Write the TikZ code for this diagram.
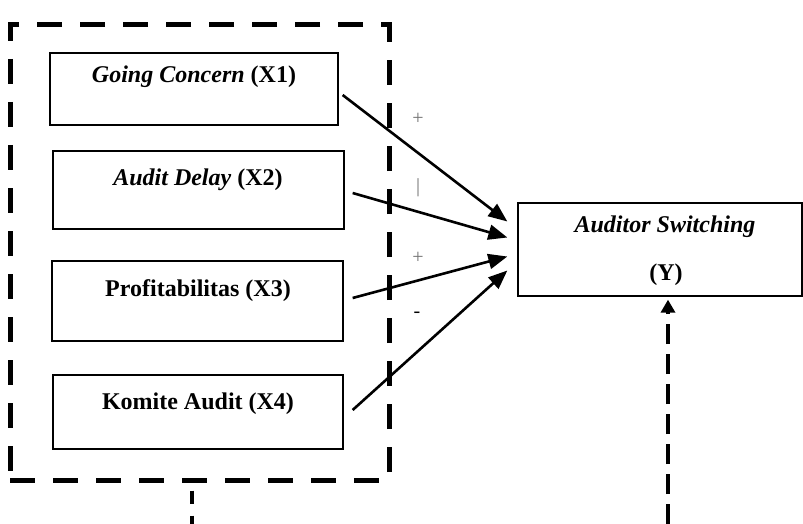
\documentclass[tikz,border=0pt]{standalone}
\usepackage{fontspec}
\setmainfont{Liberation Serif}
\usetikzlibrary{arrows.meta}

\tikzset{
  varbox/.style={draw, line width=1.3pt, inner sep=0pt},
  vartext/.style={anchor=base, inner sep=0pt, font=\fontsize{24}{28}\selectfont\bfseries},
  effect/.style={line width=2.6pt, -{Triangle[length=19pt,width=15pt]}},
  sign/.style={inner sep=0pt, text=black!55, font=\fontsize{20}{24}\selectfont},
  grpbox/.style={draw, line width=5pt, dash pattern=on 25pt off 18pt, inner sep=0pt},
}

\begin{document}
\begin{tikzpicture}[x=1pt,y=-1pt]
    \useasboundingbox (0,0) rectangle (803,524);

    % kelompok variabel independen
    \node[grpbox, minimum width=379pt, minimum height=455pt] (grp) at (199.5,252.5) {};

    \node[varbox, minimum width=288pt, minimum height=72pt] (x1) at (194,89) {};
    \node[varbox, minimum width=291pt, minimum height=78pt] (x2) at (198.5,190) {};
    \node[varbox, minimum width=291pt, minimum height=80pt] (x3) at (197.5,301) {};
    \node[varbox, minimum width=290pt, minimum height=74pt] (x4) at (198,412) {};

    \node[vartext] (x1t) at (194,83) {\textit{Going Concern} (X1)};
    \node[vartext] (x2t) at (198,185) {\textit{Audit Delay} (X2)};
    \node[vartext] (x3t) at (198,296) {Profitabilitas (X3)};
    \node[vartext] (x4t) at (198,409) {Komite Audit (X4)};

    % variabel dependen
    \node[varbox, minimum width=284pt, minimum height=93pt] (y) at (660,249.5) {};
    \node[vartext] (yt) at (665,232) {\textit{Auditor Switching}};
    \node[vartext] (yl) at (666,280) {(Y)};

    \draw[effect] ([xshift=4pt,yshift=-6pt]x1.east) -- ([xshift=-10pt,yshift=28pt]y.west);
    \draw[effect] ([xshift=8pt,yshift=-3pt]x2.east) -- ([xshift=-10pt,yshift=12pt]y.west);
    \draw[effect] ([xshift=9pt,yshift=3pt]x3.east) -- ([xshift=-10pt,yshift=-7pt]y.west);
    \draw[effect] ([xshift=9pt,yshift=2pt]x4.east) -- ([xshift=-10pt,yshift=-21pt]y.west);

    \node[sign] (s1) at (418,119) {+};
    \node[sign] (s2) at (418,188) {|};
    \node[sign] (s3) at (418,258) {+};
    \node[sign, text=black] (s4) at (417,315) {-};

    % garis putus-putus ke bawah
    \coordinate (gout) at (192,524);
    \coordinate (yout) at (668,524);
    \draw[line width=4pt, dash pattern=on 13pt off 12pt] ([yshift=-8pt]gout |- grp.south) -- (gout);
    \draw[line width=3.5pt, dash pattern=on 20pt off 10pt, shorten >=3pt,
          -{Triangle[length=13pt,width=14pt]}] (yout) -- (yout |- y.south);
\end{tikzpicture}
\end{document}
